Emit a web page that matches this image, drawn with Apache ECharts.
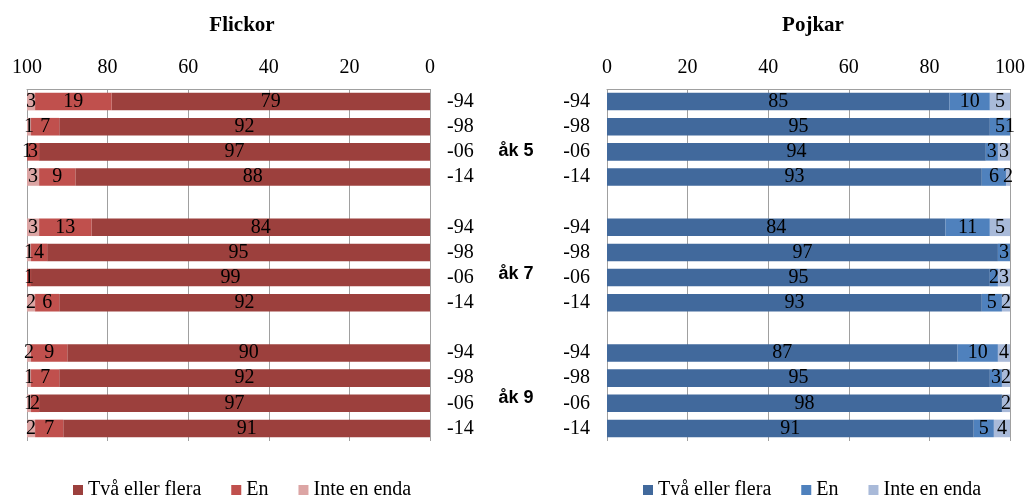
<!DOCTYPE html>
<html><head><meta charset="utf-8">
<script src="https://cdn.jsdelivr.net/npm/echarts@6/dist/echarts.min.js"></script>
<style>html,body{margin:0;padding:0;background:#fff}#c{width:1029px;height:497px}</style>
</head><body><div id="c"></div>
<script>
const years = ['-94', '-98', '-06', '-14'];
const grades = ['åk 5', 'åk 7', 'åk 9'];
const xTicks = [0, 20, 40, 60, 80, 100];
const seriesNames = ['Två eller flera', 'En', 'Inte en enda'];
// Flickor (per grade, rows -94,-98,-06,-14)
const girlsTwo  = [[79, 92, 97, 88], [84, 95, 99, 92], [90, 92, 97, 91]];
const girlsOne  = [[19, 7, 3, 9],    [13, 4, 1, 6],    [9, 7, 2, 7]];
const girlsNone = [[3, 1, 1, 3],     [3, 1, 0, 2],     [2, 1, 1, 2]];
// Pojkar
const boysTwo  = [[85, 95, 94, 93], [84, 97, 95, 93], [87, 95, 98, 91]];
const boysOne  = [[10, 5, 3, 6],    [11, 3, 2, 5],    [10, 3, 0, 5]];
const boysNone = [[5, 1, 3, 2],     [5, 0, 3, 2],     [4, 2, 2, 4]];

const girlColors = ['#9C403D', '#C0504D', '#DCA5A4'];
const boyColors  = ['#41699C', '#4F81BD', '#A9BAD9'];
const FONT = 'Liberation Serif';

// build category rows with a blank spacer row between grades
const catLabels = [];
grades.forEach((g, gi) => {
  years.forEach(y => catLabels.push(y));
  if (gi < grades.length - 1) catLabels.push('');
});
const catKeys = catLabels.map((l, i) => 'r' + i);
function flat(arr) {
  const out = [];
  arr.forEach((grp, gi) => {
    grp.forEach(v => out.push(v));
    if (gi < arr.length - 1) out.push('-');
  });
  return out;
}

const chart = echarts.init(document.getElementById('c'), null, {renderer: 'canvas'});
const gridH = 352;
const valueAxis = (gi, inverse) => ({
  type: 'value', gridIndex: gi, min: 0, max: 100, interval: 20, inverse: inverse,
  position: 'top',
  axisLine: {show: true, lineStyle: {color: '#A0A0A0', width: 1}},
  axisTick: {show: false},
  axisLabel: {fontFamily: FONT, fontSize: 20, color: '#000', margin: 11,
    formatter: v => xTicks.includes(v) ? String(v) : ''},
  splitLine: {show: true, lineStyle: {color: '#A0A0A0', width: 1}}
});
const catAxis = (gi, pos) => ({
  type: 'category', gridIndex: gi, data: catKeys, inverse: true, position: pos,
  axisLine: {show: false}, axisTick: {show: false},
  axisLabel: {interval: 0, fontFamily: FONT, fontSize: 20, color: '#000', margin: 17,
    formatter: (v, i) => catLabels[i]}
});
const labelOpt = {
  show: true, position: 'inside', color: '#000', fontFamily: FONT, fontSize: 20,
  formatter: p => (p.value ? String(p.value) : '')
};
function mk(prefix, name, xi, data, color) {
  return {
    type: 'bar', name: prefix + name, xAxisIndex: xi, yAxisIndex: xi, stack: prefix,
    data: flat(data), barWidth: '70%', itemStyle: {color: color}, label: labelOpt,
    emphasis: {disabled: true}, animation: false
  };
}
const legendBase = {
  top: 480, padding: 0, itemWidth: 10, itemHeight: 10, itemGap: 30,
  textStyle: {fontFamily: FONT, fontSize: 20, color: '#000'},
  formatter: n => n.slice(2), selectedMode: false, icon: 'rect'
};

chart.setOption({
  animation: false,
  title: [
    {text: 'Flickor', left: 237, top: 10, textAlign: 'center',
     textStyle: {fontFamily: FONT, fontSize: 21, fontWeight: 'bold', color: '#000'}},
    {text: 'Pojkar', left: 808, top: 10, textAlign: 'center',
     textStyle: {fontFamily: FONT, fontSize: 21, fontWeight: 'bold', color: '#000'}}
  ],
  grid: [
    {left: 27, top: 89, width: 403, height: gridH},
    {left: 607, top: 89, width: 403, height: gridH},
    {left: 430, top: 89, width: 177, height: 371}
  ],
  xAxis: [
    valueAxis(0, true),
    valueAxis(1, false),
    {type: 'value', gridIndex: 2, show: false}
  ],
  yAxis: [
    catAxis(0, 'right'),
    catAxis(1, 'left'),
    {type: 'category', gridIndex: 2, data: grades, inverse: true, position: 'left',
     axisLine: {show: false}, axisTick: {show: false}, splitLine: {show: false},
     axisLabel: {interval: 0, align: 'center', margin: -86, fontFamily: 'Liberation Sans',
       fontWeight: 'bold', fontSize: 18, color: '#000'}}
  ],
  legend: [
    Object.assign({}, legendBase, {left: 73, data: seriesNames.map(n => 'F:' + n)}),
    Object.assign({}, legendBase, {left: 643, data: seriesNames.map(n => 'P:' + n)})
  ],
  series: [
    mk('F:', seriesNames[0], 0, girlsTwo, girlColors[0]),
    mk('F:', seriesNames[1], 0, girlsOne, girlColors[1]),
    mk('F:', seriesNames[2], 0, girlsNone, girlColors[2]),
    mk('P:', seriesNames[0], 1, boysTwo, boyColors[0]),
    mk('P:', seriesNames[1], 1, boysOne, boyColors[1]),
    mk('P:', seriesNames[2], 1, boysNone, boyColors[2])
  ]
});
</script></body></html>
